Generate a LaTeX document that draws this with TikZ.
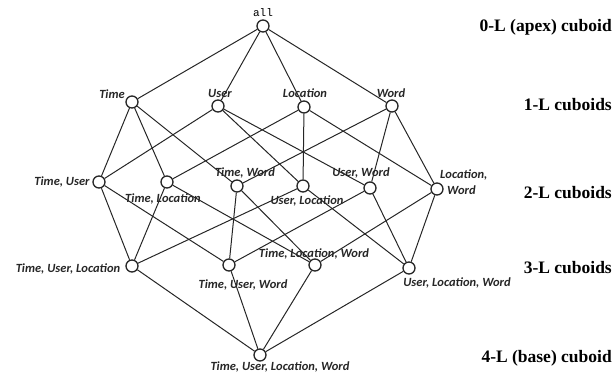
\documentclass[tikz,border=0pt]{standalone}
\usepackage{fontspec}
\setmainfont{Liberation Serif}
\newfontfamily\labfont{Carlito}
\newfontfamily\allfont{Liberation Mono}
\begin{document}
\begin{tikzpicture}[x=1pt,y=-1pt,
  cub/.style={circle,draw=black!85,line width=1.3pt,minimum size=12pt,inner sep=0pt,fill=white},
  lab/.style={font=\labfont\bfseries\itshape\fontsize{12.5}{16}\selectfont,inner sep=0pt,text=black!85},
  lev/.style={font=\bfseries\fontsize{17.5}{20}\selectfont,anchor=base east,inner sep=0pt},
  edge/.style={line width=1pt,draw=black!85}]
\useasboundingbox (0,0) rectangle (614,379);
% cuboid nodes
\node[cub] (A) at (263,26) {};
\node[cub] (T) at (132,102) {};
\node[cub] (U) at (218,106) {};
\node[cub] (L) at (304,107) {};
\node[cub] (W) at (392,106) {};
\node[cub] (TU) at (99,182) {};
\node[cub] (TL) at (167,182) {};
\node[cub] (TW) at (237,186) {};
\node[cub] (UL) at (303,186) {};
\node[cub] (UW) at (370,188) {};
\node[cub] (LW) at (437,189) {};
\node[cub] (TUL) at (132,266) {};
\node[cub] (TUW) at (229,265) {};
\node[cub] (TLW) at (315,265) {};
\node[cub] (ULW) at (409,268) {};
\node[cub] (B) at (260,355) {};
% edges
\foreach \a/\b in {A/T,A/U,A/L,A/W,
  T/TU,T/TL,T/TW,U/TU,U/UL,U/UW,L/TL,L/UL,L/LW,W/TW,W/UW,W/LW,
  TU/TUL,TU/TUW,TL/TUL,TL/TLW,TW/TUW,TW/TLW,UL/TUL,UL/ULW,UW/TUW,UW/ULW,LW/TLW,LW/ULW,
  TUL/B,TUW/B,TLW/B,ULW/B}
  \draw[edge] (\a) -- (\b);
% labels
\node[font=\allfont\fontsize{11}{12}\selectfont,inner sep=0pt] (lA) at (263,13) {all};
\node[lab] (lT) at (112,94) {Time};
\node[lab] (lU) at (220,93) {User};
\node[lab] (lL) at (305,93) {Location};
\node[lab] (lW) at (391,93) {Word};
\node[lab] (lTU) at (62,182) {Time, User};
\node[lab] (lTL) at (163,199) {Time, Location};
\node[lab] (lTW) at (245,173) {Time, Word};
\node[lab] (lUL) at (307,201) {User, Location};
\node[lab] (lUW) at (361,173) {User, Word};
\node[lab,align=left,anchor=north west] (lLW) at (440,170) {Location,\\\hspace*{7pt}Word};
\node[lab] (lTUL) at (68,269) {Time, User, Location};
\node[lab] (lTUW) at (243,285) {Time, User, Word};
\node[lab] (lTLW) at (314,254) {Time, Location, Word};
\node[lab] (lULW) at (457,283) {User, Location, Word};
\node[lab] (lB) at (280,367) {Time, User, Location, Word};
% level labels
\node[lev] (l0) at (612,32) {0-L (apex) cuboid};
\node[lev] (l1) at (612,111) {1-L cuboids};
\node[lev] (l2) at (612,199) {2-L cuboids};
\node[lev] (l3) at (612,274) {3-L cuboids};
\node[lev] (l4) at (612,363) {4-L (base) cuboid};
\end{tikzpicture}
\end{document}
